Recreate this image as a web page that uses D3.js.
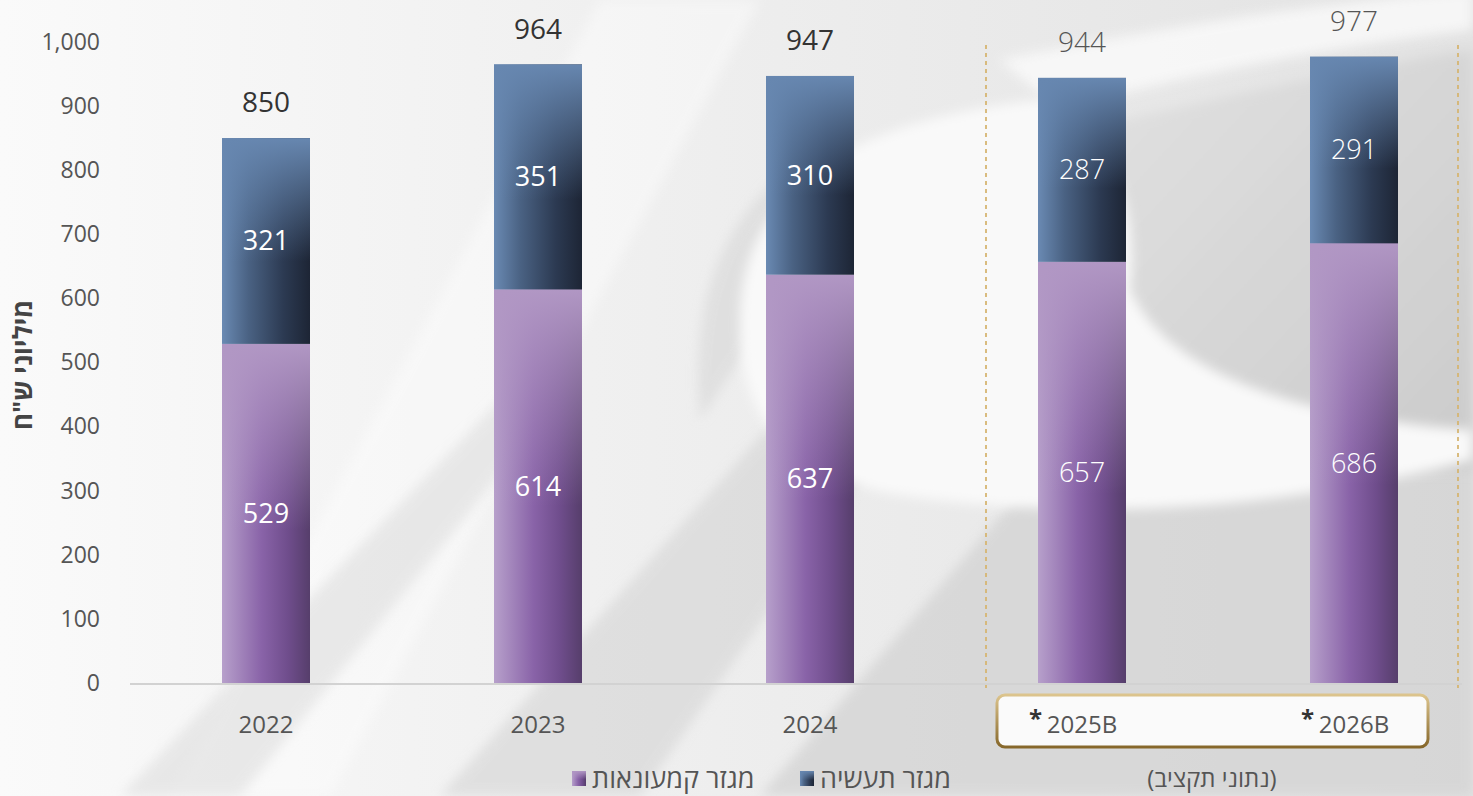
<!DOCTYPE html>
<html>
<head>
<meta charset="utf-8">
<script src="https://cdn.jsdelivr.net/npm/d3@7"></script>
<style>
  body { margin: 0; background: #f4f4f4; }
  svg { display: block; font-family: "Open Sans", "Liberation Sans", "DejaVu Sans", sans-serif; }
</style>
</head>
<body>
<svg id="chart" width="1473" height="796"></svg>
<script>
// data
const years = ["2022", "2023", "2024", "2025B", "2026B"]
const retail = [529, 614, 637, 657, 686]      // מגזר קמעונאות
const industry = [321, 351, 310, 287, 291]    // מגזר תעשיה
const totals = [850, 964, 947, 944, 977]
const budget = [false, false, false, true, true]
const yTicks = [0, 100, 200, 300, 400, 500, 600, 700, 800, 900, 1000]

const W = 1473, H = 796
const svg = d3.select("#chart")
const defs = svg.append("defs")

// ---- background (decorative) ----
let bgGrad = defs.append("linearGradient").attr("id", "bgGrad")
bgGrad.append("stop").attr("offset", 0).attr("stop-color", "#fafafa")
bgGrad.append("stop").attr("offset", 0.4).attr("stop-color", "#f0f0f0")
bgGrad.append("stop").attr("offset", 1).attr("stop-color", "#e2e2e2")

let grayGrad = defs.append("linearGradient").attr("id", "grayGrad")
    .attr("x1", 0).attr("y1", 0).attr("x2", 1).attr("y2", 1)
grayGrad.append("stop").attr("offset", 0).attr("stop-color", "#e2e2e2")
grayGrad.append("stop").attr("offset", 1).attr("stop-color", "#cbcbcb")

defs.append("filter").attr("id", "soft")
    .attr("x", "-20%").attr("y", "-20%").attr("width", "140%").attr("height", "140%")
    .append("feGaussianBlur").attr("stdDeviation", 6)

let bg = svg.append("g")
bg.append("rect").attr("width", W).attr("height", H).attr("fill", "url(#bgGrad)")
// diagonal streaks
bg.append("path").attr("d", "M600 0 L760 0 L330 796 L170 796 Z")
    .attr("fill", "#ffffff").attr("opacity", 0.4).attr("filter", "url(#soft)")
bg.append("path").attr("d", "M440 796 L640 796 L1000 280 L900 280 Z")
    .attr("fill", "#d4d4d4").attr("opacity", 0.6).attr("filter", "url(#soft)")
bg.append("path").attr("d", "M120 796 L240 796 L560 400 L500 400 Z")
    .attr("fill", "#dedede").attr("opacity", 0.6).attr("filter", "url(#soft)")
bg.append("path").attr("d", "M760 796 L1473 796 L1473 440 L1040 470 Z")
    .attr("fill", "#d3d3d3").attr("opacity", 0.75).attr("filter", "url(#soft)")
// gray area upper right
bg.append("path").attr("d", "M1080 130 C1250 90 1400 60 1473 50 L1473 470 L1100 470 Z")
    .attr("fill", "url(#grayGrad)").attr("filter", "url(#soft)")
// shadow left of the white shape
bg.append("path").attr("d", "M700 420 C690 300 720 220 800 160 L760 330 Z")
    .attr("fill", "#dadada").attr("opacity", 0.7).attr("filter", "url(#soft)")
// white streaks top right
bg.append("path").attr("d", "M1000 60 C1200 20 1350 0 1473 -10 L1473 30 C1350 45 1200 70 1060 110 Z")
    .attr("fill", "#fbfbfb").attr("opacity", 0.8).attr("filter", "url(#soft)")
// big white curved shape
bg.append("path")
    .attr("d", "M740 320 C740 190 850 120 1040 100 C1110 130 1140 200 1130 290 C1170 380 1320 420 1473 430 L1473 460 C1300 505 1100 525 900 495 C790 475 738 420 740 320 Z")
    .attr("fill", "#f9f9f9").attr("filter", "url(#soft)")

// ---- gradients for bars ----
function hGrad(id, stops) {
    let g = defs.append("linearGradient").attr("id", id)
        .attr("x1", 0).attr("y1", 0).attr("x2", 1).attr("y2", 0)
    stops.forEach(s => g.append("stop").attr("offset", s[0]).attr("stop-color", s[1]))
}
function vGrad(id, color, end) {
    let g = defs.append("linearGradient").attr("id", id)
        .attr("x1", 0).attr("y1", 0).attr("x2", 0).attr("y2", 1)
    g.append("stop").attr("offset", 0).attr("stop-color", color).attr("stop-opacity", 1)
    g.append("stop").attr("offset", end).attr("stop-color", color).attr("stop-opacity", 0)
}
hGrad("blueH", [[0, "#6a8ab3"], [0.3, "#4a6283"], [0.7, "#2c3a52"], [1, "#1d2535"]])
vGrad("blueV", "#6787b0", 0.6)
hGrad("purpH", [[0, "#b7a0cb"], [0.45, "#8963a8"], [0.75, "#6f4d8c"], [1, "#563e6b"]])
vGrad("purpV", "#b197c4", 0.55)

let gold = defs.append("linearGradient").attr("id", "gold")
    .attr("x1", 0).attr("y1", 0).attr("x2", 0).attr("y2", 1)
gold.append("stop").attr("offset", 0).attr("stop-color", "#dcc48d")
gold.append("stop").attr("offset", 1).attr("stop-color", "#86672a")

// ---- scales ----
const y = d3.scaleLinear().domain([0, 1000]).range([683, 42])
const x = d3.scaleBand().domain(years).range([130, 1490]).padding(0)
const barW = 88
const cx = d => x(d) + x.bandwidth() / 2

let rows = years.map((yr, i) => ({
    year: yr, retail: retail[i], industry: industry[i], total: totals[i], budget: budget[i]
}))

// y axis
let yAxis = svg.append("g").attr("transform", "translate(110,0)")
    .call(d3.axisLeft(y).tickValues(yTicks).tickSize(0).tickPadding(10).tickFormat(d3.format(",")))
yAxis.attr("font-family", null).attr("font-size", null)
yAxis.select(".domain").remove()
yAxis.selectAll("text").attr("font-size", 23).attr("fill", "#555")

svg.append("text")
    .attr("transform", "translate(32,365) rotate(-90)")
    .attr("text-anchor", "middle")
    .attr("font-size", 26).attr("font-weight", "bold").attr("fill", "#444")
    .text("מיליוני ש\"ח")

// baseline
svg.append("line").attr("x1", 130).attr("x2", 1462).attr("y1", y(0) + 1).attr("y2", y(0) + 1)
    .attr("stroke", "#d2d2d2").attr("stroke-width", 2)

// dashed separators
let sepX = [cx("2025B") - 96, cx("2026B") + 104]
svg.selectAll(".sep").data(sepX).enter().append("line")
    .attr("x1", d => d).attr("x2", d => d).attr("y1", 45).attr("y2", 688)
    .attr("stroke", "#d6b572").attr("stroke-width", 1.8).attr("stroke-dasharray", "4,4")

// bars
let bars = svg.selectAll(".bar").data(rows).enter().append("g")
    .attr("transform", d => "translate(" + (cx(d.year) - barW / 2) + ",0)")

function seg(sel, y0, y1, h, v) {
    sel.append("rect").attr("width", barW).attr("y", y1).attr("height", d => y0(d) - y1(d))
        .attr("fill", "url(#" + h + ")")
    sel.append("rect").attr("width", barW).attr("y", y1).attr("height", d => y0(d) - y1(d))
        .attr("fill", "url(#" + v + ")")
}
seg(bars, d => y(0), d => y(d.retail), "purpH", "purpV")
seg(bars, d => y(d.retail), d => y(d.retail + d.industry), "blueH", "blueV")

// inner labels
bars.append("text")
    .attr("x", barW / 2).attr("y", d => y(d.retail / 2)).attr("dy", "0.35em")
    .attr("text-anchor", "middle").attr("fill", "#fff").attr("font-size", 27)
    .attr("font-weight", d => d.budget ? 300 : 400)
    .text(d => d.retail)
bars.append("text")
    .attr("x", barW / 2).attr("y", d => y(d.retail + d.industry / 2)).attr("dy", "0.35em")
    .attr("text-anchor", "middle").attr("fill", "#fff").attr("font-size", 27)
    .attr("font-weight", d => d.budget ? 300 : 400)
    .text(d => d.industry)

// totals
bars.append("text")
    .attr("x", barW / 2).attr("y", d => y(d.total) - 36).attr("dy", "0.35em")
    .attr("text-anchor", "middle").attr("font-size", 28)
    .attr("fill", d => d.budget ? "#555" : "#333")
    .attr("font-weight", d => d.budget ? 300 : 500)
    .text(d => d.total)

// budget box
svg.append("rect").attr("x", 997).attr("y", 695).attr("width", 431).attr("height", 52).attr("rx", 8)
    .attr("fill", "#fafafa").attr("stroke", "url(#gold)").attr("stroke-width", 3)

// category labels
let cat = svg.selectAll(".cat").data(rows).enter().append("g")
    .attr("transform", d => "translate(" + cx(d.year) + ",733)")
cat.append("text").attr("text-anchor", "middle").attr("font-size", 24).attr("fill", "#555")
    .text(d => d.year)
cat.filter(d => d.budget).append("text")
    .attr("x", -40).attr("y", -6).attr("text-anchor", "end")
    .attr("font-size", 24).attr("font-weight", "bold").attr("fill", "#333").text("*")

svg.append("text").attr("x", 1212).attr("y", 787).attr("text-anchor", "middle")
    .attr("font-size", 24).attr("fill", "#555").text("(נתוני תקציב)")

// legend
const legendItems = [
    { label: "מגזר תעשיה", x: 800, h: "blueH", v: "blueV" },
    { label: "מגזר קמעונאות", x: 572, h: "purpH", v: "purpV" }
]
let lg = svg.selectAll(".lg").data(legendItems).enter().append("g")
    .attr("transform", d => "translate(" + d.x + ",771)")
lg.append("rect").attr("width", 14).attr("height", 15).attr("fill", d => "url(#" + d.h + ")")
lg.append("rect").attr("width", 14).attr("height", 15).attr("fill", d => "url(#" + d.v + ")")
lg.append("text").attr("x", 20).attr("y", 17).attr("font-size", 27).attr("fill", "#555")
    .text(d => d.label)
</script>
</body>
</html>
